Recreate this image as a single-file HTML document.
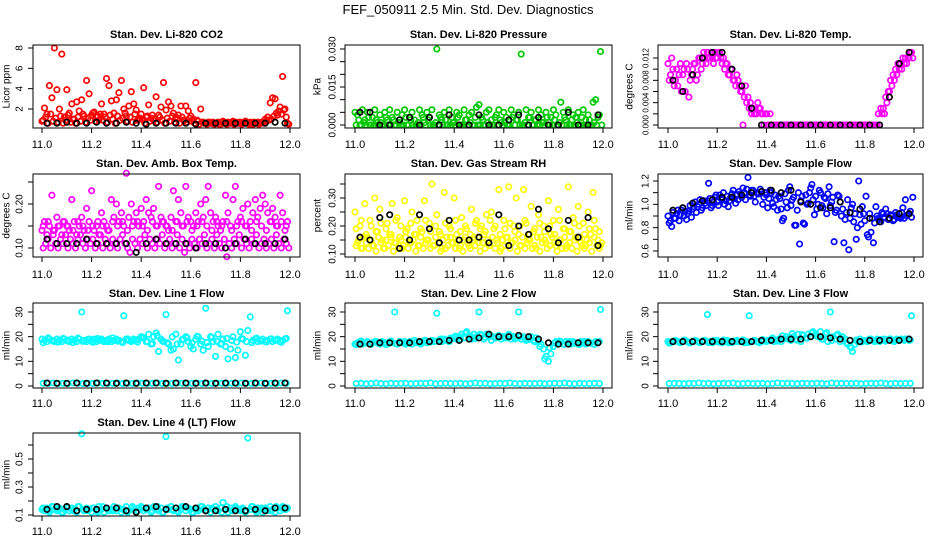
<!DOCTYPE html>
<html><head><meta charset="utf-8"><style>
body{margin:0;background:#fff}
svg{display:block;font-family:"Liberation Sans",sans-serif}
</style></head><body>
<svg id="chart" width="936" height="540" viewBox="0 0 936 540" xmlns="http://www.w3.org/2000/svg">
<rect width="936" height="540" fill="#fff"/>
<text x="468" y="14" text-anchor="middle" font-size="13">FEF_050911  2.5 Min. Std. Dev. Diagnostics</text>
</svg>
<script>
// ---- category (time) axes ----
const xTicks = [11.0, 11.2, 11.4, 11.6, 11.8, 12.0];
const xTickLabels = ["11.0", "11.2", "11.4", "11.6", "11.8", "12.0"];
const times100 = []; for (let i = 0; i < 100; i++) times100.push(11 + i * 0.01);
const times50 = []; for (let i = 0; i < 50; i++) times50.push(11.005 + i * 0.02);
const timesK = [11.02,11.06,11.10,11.14,11.18,11.22,11.26,11.30,11.34,11.38,11.42,11.46,11.50,11.54,11.58,11.62,11.66,11.70,11.74,11.78,11.82,11.86,11.90,11.94,11.98];

// ---- series values ----
const co2A = [0.8,2.1,1.5,4.3,3.1,8.0,3.9,2.0,7.4,1.2, 3.9,1.6,2.5,1.0,2.7,1.8,2.9,1.3,4.8,3.5, 1.4,1.7,1.2,0.9,2.5,1.5,5.0,4.3,2.8,1.6, 2.9,3.6,4.8,2.0,1.3,2.3,3.7,2.5,1.9,1.0, 1.5,4.1,1.2,2.4,1.1,0.9,3.2,1.4,2.2,4.6, 1.9,2.7,2.3,1.6,1.2,1.4,2.3,0.9,2.3,1.8, 1.3,1.0,4.6,0.8,2.0,0.7,0.6,0.7,0.6,0.7, 0.6,0.7,0.5,0.8,0.6,0.7,0.6,0.8,0.7,0.6, 0.7,0.6,0.8,0.6,0.7,0.5,0.6,0.7,0.6,0.7, 1.0,1.2,2.6,3.1,3.0,1.4,2.2,5.2,2.0,0.6];
const co2B = [0.9,1.2,0.6,1.5,0.8,1.1,0.7,1.3,0.6,0.9, 1.4,0.7,1.0,0.6,1.2,0.8,1.5,0.7,1.1,0.9, 1.6,0.8,1.3,1.5,0.9,1.2,0.7,1.4,1.0,0.6, 1.3,0.9,1.1,1.6,0.8,1.2,0.7,1.5,0.9,1.1, 1.0,0.6,1.3,0.8,1.4,1.1,0.7,1.2,0.9,0.6, 1.1,0.8,1.3,0.7,1.0,0.6,1.2,0.9,0.7,1.1, 0.8,0.6,0.9,0.5,0.7,0.6,0.5,0.7,0.6,0.5, 0.6,0.5,0.7,0.6,0.5,0.6,0.7,0.5,0.6,0.7, 0.5,0.6,0.7,0.5,0.6,0.7,0.6,0.5,0.7,0.6, 0.8,0.9,1.0,1.3,1.6,1.8,1.5,1.9,1.2,0.5];
const co2K = [0.6,0.6,0.7,0.6,0.6,0.7,0.6,0.6,0.7,0.6,0.5,0.6,0.6,0.6,0.6,0.5,0.6,0.6,0.6,0.6,0.6,0.6,0.6,0.7,0.6];

const presA = [.005,.004,.000,.006,.002,.005,.000,.003,.006,.001, .004,.000,.005,.002,.006,.003,.000,.005,.001,.004, .006,.000,.003,.005,.002,.000,.006,.004,.001,.005, .003,.006,.000,.030,.004,.002,.005,.000,.006,.003, .001,.005,.004,.000,.006,.002,.004,.005,.000,.007, .008,.003,.000,.005,.006,.002,.000,.004,.006,.001, .005,.003,.000,.006,.004,.002,.005,.028,.000,.006, .003,.005,.000,.002,.006,.004,.001,.005,.000,.003, .006,.004,.000,.009,.005,.002,.006,.000,.004,.003, .005,.000,.006,.002,.004,.000,.009,.010,.003,.029];
const presB = [.000,.002,.000,.001,.000,.003,.000,.000,.002,.000, .001,.000,.003,.000,.000,.002,.000,.001,.000,.000, .003,.000,.002,.000,.000,.001,.000,.003,.000,.002, .000,.000,.001,.000,.003,.000,.002,.000,.000,.001, .000,.003,.000,.000,.002,.000,.001,.000,.003,.000, .000,.002,.000,.001,.000,.000,.003,.000,.002,.000, .001,.000,.000,.003,.000,.002,.000,.000,.001,.000, .003,.000,.002,.000,.000,.001,.000,.003,.000,.000, .002,.000,.001,.000,.003,.000,.000,.002,.000,.001, .000,.003,.000,.000,.002,.000,.001,.000,.004,.000];
const presK = [.005,.005,.000,.000,.002,.003,.000,.003,.000,.004,.000,.000,.004,.000,.000,.002,.004,.000,.003,.000,.000,.005,.000,.000,.004];

const tempA = [.011,.009,.010,.008,.007,.011,.009,.006,.010,.008, .010,.011,.009,.012,.011,.012,.013,.012,.012,.013, .012,.013,.011,.010,.011,.009,.010,.008,.009,.007, .006,.005,.004,.003,.002,.002,.002,.003,.002,.000, .002,.000,.000,.000,.000,.000,.000,.000,.000,.000, .000,.000,.000,.000,.000,.000,.000,.000,.000,.000, .000,.000,.000,.000,.000,.000,.000,.000,.000,.000, .000,.000,.000,.000,.000,.000,.000,.000,.000,.000, .000,.000,.000,.000,.000,.000,.000,.002,.002,.004, .006,.007,.008,.009,.010,.010,.011,.011,.012,.013];
const tempB = [.008,.012,.007,.010,.009,.006,.010,.011,.005,.009, .011,.008,.012,.010,.013,.011,.012,.013,.011,.012, .013,.012,.012,.011,.009,.010,.008,.007,.008,.006, .000,.007,.005,.004,.003,.002,.004,.003,.002,.002, .000,.002,.000,.000,.000,.000,.000,.000,.000,.000, .000,.000,.000,.000,.000,.000,.000,.000,.000,.000, .000,.000,.000,.000,.000,.000,.000,.000,.000,.000, .000,.000,.000,.000,.000,.000,.000,.000,.000,.000, .000,.000,.000,.000,.000,.002,.003,.003,.005,.006, .008,.009,.010,.011,.011,.012,.012,.012,.013,.012];
const tempK = [.008,.006,.009,.012,.013,.013,.010,.007,.003,.000,.000,.000,.000,.000,.000,.000,.000,.000,.000,.000,.000,.000,.005,.011,.013];

const ambA = [.14,.16,.13,.15,.22,.14,.17,.15,.13,.16, .15,.14,.21,.16,.13,.15,.17,.14,.19,.16, .23,.14,.15,.13,.18,.16,.15,.14,.21,.17, .20,.16,.18,.15,.27,.17,.20,.16,.18,.15, .19,.16,.21,.18,.17,.19,.15,.24,.17,.16, .15,.14,.17,.23,.16,.21,.18,.15,.24,.17, .16,.15,.18,.16,.20,.17,.21,.24,.18,.16, .17,.15,.14,.16,.22,.18,.15,.21,.24,.16, .17,.19,.15,.20,.16,.18,.21,.17,.19,.22, .20,.18,.16,.19,.17,.15,.22,.18,.14,.16];
const ambB = [.10,.11,.12,.10,.13,.11,.10,.12,.11,.13, .10,.12,.11,.10,.12,.13,.11,.10,.12,.11, .12,.10,.11,.13,.10,.12,.11,.10,.12,.11, .10,.12,.13,.11,.10,.09,.12,.11,.10,.12, .11,.13,.10,.12,.11,.10,.12,.11,.13,.10, .11,.12,.10,.11,.13,.10,.12,.09,.11,.10, .12,.11,.10,.12,.11,.13,.10,.11,.12,.10, .13,.11,.10,.12,.08,.11,.10,.12,.11,.13, .10,.12,.11,.10,.12,.11,.13,.10,.11,.12, .10,.11,.12,.10,.13,.11,.10,.12,.11,.10];
const ambC = [.15,.16,.14,.15,.16,.15,.14,.16,.15,.14, .15,.16,.15,.14,.16,.15,.16,.14,.15,.16, .15,.14,.16,.15,.16,.15,.14,.16,.15,.16, .14,.15,.16,.15,.14,.16,.15,.16,.14,.15, .16,.15,.14,.16,.15,.14,.16,.15,.16,.15];
const ambK = [.12,.11,.11,.11,.12,.11,.11,.11,.11,.09,.11,.12,.11,.11,.11,.10,.11,.11,.10,.11,.12,.11,.11,.11,.12];

const rhA = [.25,.14,.20,.12,.28,.16,.22,.13,.30,.18, .26,.15,.12,.21,.17,.28,.14,.23,.16,.12, .29,.19,.14,.25,.17,.22,.13,.18,.29,.15, .21,.35,.13,.24,.18,.12,.32,.16,.20,.14, .30,.17,.12,.23,.15,.19,.13,.26,.16,.22, .14,.20,.17,.24,.13,.25,.19,.15,.33,.12, .22,.16,.34,.14,.20,.30,.17,.13,.33,.21, .15,.27,.18,.12,.24,.16,.20,.14,.29,.17, .22,.13,.26,.15,.19,.12,.34,.18,.23,.16, .27,.14,.21,.13,.25,.17,.32,.19,.15,.13];
const rhB = [.13,.15,.12,.16,.14,.12,.15,.13,.11,.16, .14,.12,.15,.13,.16,.11,.14,.12,.15,.13, .16,.12,.14,.15,.11,.13,.16,.12,.14,.15, .12,.13,.16,.14,.11,.15,.12,.13,.16,.14, .12,.15,.13,.11,.16,.14,.12,.15,.13,.16, .11,.14,.12,.15,.13,.16,.12,.14,.11,.15, .13,.16,.12,.14,.15,.11,.13,.16,.12,.14, .15,.12,.13,.16,.11,.14,.15,.12,.13,.16, .14,.11,.15,.12,.16,.13,.14,.12,.15,.11, .16,.13,.12,.15,.14,.11,.16,.13,.12,.14];
const rhC = [.19,.22,.17,.20,.18,.21,.19,.17,.22,.20, .18,.21,.17,.19,.22,.18,.20,.17,.21,.19, .22,.18,.20,.17,.21,.19,.18,.22,.20,.17, .19,.21,.18,.20,.22,.17,.19,.21,.18,.20, .17,.22,.19,.18,.21,.20,.17,.19,.22,.18];
const rhK = [.16,.15,.23,.24,.12,.15,.24,.19,.14,.22,.15,.15,.16,.14,.24,.13,.20,.17,.26,.19,.14,.22,.16,.23,.13];

const sfA = [.90,.86,.93,.88,.95,.91,.97,.94,.92,.99, .96,1.02,.98,1.04,.97,1.01,1.03,1.05,.99,1.06, 1.02,1.08,1.04,1.00,1.07,1.03,1.09,1.05,1.08,1.11, 1.06,1.10,1.13,1.08,1.12,1.07,1.10,1.09,1.11,1.06, 1.08,1.05,1.10,.98,1.04,1.07,.96,.88,1.02,1.12, .99,1.06,.82,1.10,1.03,.84,1.08,1.01,1.14,1.04, 1.07,1.00,1.10,.97,1.05,1.09,.99,1.06,.93,1.08, 1.02,.96,.87,1.04,.88,1.00,.92,.80,.91,.98, .86,.74,.92,.88,.84,.90,.87,.93,.89,.92, .88,.90,.87,.91,.89,.93,.88,.90,.92,.89];
const sfB = [.84,.81,.88,.92,.86,.95,.90,.87,.94,.89, .98,.93,1.00,.95,1.03,.99,1.18,.97,1.02,1.08, .99,1.05,1.10,1.03,.98,1.06,1.12,1.01,1.04,1.09, 1.14,1.04,1.23,1.07,1.12,1.02,1.09,1.13,1.00,1.10, .97,1.12,1.01,1.08,.95,1.05,.86,1.09,.97,1.15, 1.04,.82,.95,.66,1.07,.83,1.00,1.10,1.17,.91, .96,1.12,.99,1.06,.92,1.15,1.02,.68,.95,1.07, .90,.67,.93,.61,.97,.85,.70,1.20,.83,.92, 1.07,.72,.76,.67,.98,.88,.85,.92,.96,.87, .91,.86,.93,.90,.88,.97,1.04,.91,.94,1.06];
const sfK = [.95,.97,1.01,1.03,1.04,1.06,1.06,1.08,1.10,1.11,1.12,1.10,1.12,1.02,1.00,.97,.97,1.02,.93,.96,.88,.85,.88,.92,.92];

const l1A = [19,18.5,18,19,18.5,18,19,18.5,18,19, 18.5,18,19,18.5,18,19,30,18.5,18,19, 18.5,19,18,18.5,19,18,18.5,19,18,18.5, 19,18.5,18,28.5,19,18.5,18,19,18.5,19, 20,19.5,18,21,17,20,21.5,14,19,18, 29,17,14.5,15,21,10.5,17,19,20,18, 16,15,19,20,17,14.5,31.5,16,20,18, 12,21,17,19,16,11,15,20,11.5,14.5, 22,19,12.5,22.5,28,18.5,19,18,18.5,19, 18,18.5,19,18,18.5,19,18,18.5,19,30.5];
const l1B = [17.5,19.5,18.2,17.8,19.3,18.6,17.6,19.4,18.1,18.9, 17.7,19.2,18.4,17.9,19.5,18.2,17.6,19.1,18.6,17.8, 19.8,18.0,17.2,20.4,18.3,17.5,19.9,17.0,18.8,19.6, 17.4,20.1,18.2,17.6,19.7,18.1,17.2,19.3,18.5,17.8, 19.2,18.0,17.6,19.4,18.3,17.8,19.1,18.6,17.7,19.3];
const l1C = [1.1,1.0,1.2,1.0,1.1,1.0,1.2,1.1,1.0,1.1, 1.0,1.2,1.1,1.0,1.1,1.2,1.0,1.1,1.0,1.2, 1.1,1.0,1.1,1.2,1.0,1.1,1.0,1.2,1.1,1.0, 1.1,1.2,1.0,1.1,1.0,1.2,1.1,1.0,1.1,1.0, 1.2,1.1,1.0,1.1,1.2,1.0,1.1,1.0,1.2,1.1];
const l1K = [1.2,1.1,1.1,1.2,1.1,1.2,1.2,1.1,1.2,1.1,1.2,1.2,1.1,1.2,1.2,1.1,1.2,1.1,1.2,1.2,1.1,1.2,1.1,1.2,1.2];

const l2A = [17,17.5,18,17,17.5,18,17,17.5,18,17.5, 17,18,17.5,17,18,17.5,30,17,18,17.5, 18,17.5,18,17,18.5,18,17.5,18,18.5,17.5, 18,18.5,18,29.5,18.5,18,19,18.5,18,19, 19.5,19,20,21,19.5,22,20,19,21,20, 30,20.5,19,21,20,18.5,20,19.5,20.5,19, 20,19.5,21,19,20,19.5,30,19,20,18.5, 19,20,18.5,19.5,18,17,15,12,10,13, 16,18,17.5,18,17,18,17.5,17,18,17.5, 17,18,17.5,17,18,17.5,17,18,17.5,31];
const l2B = [16.8,18.2,17.4,16.9,18.1,17.6,16.8,18.3,17.2,17.9, 16.9,18.0,17.5,17.0,18.4,17.8,18.2,19.1,18.6,19.4, 20.2,19.0,21.4,20.3,19.2,21.0,19.8,20.6,19.5,20.1, 19.6,20.4,19.1,20.0,19.3,18.8,17.9,16.0,11.0,15.5, 17.4,18.2,16.9,18.0,17.3,16.8,18.1,17.5,16.9,18.0];
const l2C = [1.0,1.1,0.9,1.0,1.2,1.0,0.9,1.1,1.0,1.0, 1.1,0.9,1.0,1.1,1.0,1.2,0.9,1.0,1.1,1.0, 1.0,1.1,0.9,1.0,1.2,1.0,1.1,0.9,1.0,1.1, 1.0,1.2,1.0,0.9,1.1,1.0,1.0,1.1,0.9,1.0, 1.1,1.0,1.2,1.0,0.9,1.1,1.0,1.0,1.1,1.0];
const l2K = [17,17,17.5,17.5,17.5,17.5,18,18,18,18.5,18.5,19,19.5,21,20,20,20.5,20,19,17.5,17,17,17.5,17.5,17.5];

const l3A = [18,17.5,18,18.5,18,17.5,18,18.5,18,17.5, 18,18.5,18,17.5,18,18.5,29,18,17.5,18, 18.5,18,17.5,18,18.5,18,17.5,18,18.5,18, 18,17.5,18,28.5,18,18.5,18,17.5,18,18.5, 18,18.5,19,18,18.5,19,18,19,20,19, 18.5,20,19,21,18,20.5,19.5,21,20,22, 21,20,22,19,21,18,30,20,19,21, 18,20,19,17,16,14,17,18,19,18, 18.5,18,19,18.5,18,19,18,18.5,19,18.5, 19,18.5,18,19,18.5,19,18.5,19,18.5,28.5];
const l3B = [17.4,18.3,17.8,18.6,17.5,18.2,17.7,18.5,17.6,18.4, 17.8,18.6,17.5,18.2,17.9,18.7,17.6,18.3,18.0,18.8, 18.4,19.5,18.2,20.3,19.1,21.2,18.6,20.8,19.4,21.5, 20.2,19.0,21.6,18.4,20.5,19.2,17.5,15.5,18.6,17.8, 18.3,19.0,18.5,18.9,18.2,19.1,18.4,18.8,19.0,18.6];
const l3C = [1.0,1.1,1.0,0.9,1.1,1.0,1.2,1.0,1.1,0.9, 1.0,1.1,1.0,1.2,0.9,1.0,1.1,1.0,1.0,1.1, 0.9,1.0,1.2,1.0,1.1,1.0,0.9,1.1,1.0,1.0, 1.1,1.0,0.9,1.2,1.0,1.1,1.0,1.0,1.1,0.9, 1.0,1.1,1.0,1.2,1.0,0.9,1.1,1.0,1.0,1.1];
const l3K = [18,18,18,18,18,18,18,18,18,18.5,18.5,19,19,19,20,20,19.5,19,18.5,18,18.5,18.5,18.5,18.5,19];

const l4A = [.14,.13,.15,.12,.16,.14,.13,.15,.12,.14, .16,.13,.15,.14,.12,.16,.68,.13,.15,.14, .12,.15,.13,.16,.14,.12,.15,.13,.14,.16, .13,.15,.12,.14,.16,.13,.15,.14,.12,.15, .16,.13,.14,.15,.12,.16,.14,.13,.15,.12, .66,.14,.16,.13,.15,.12,.14,.16,.13,.15, .14,.12,.15,.13,.16,.14,.13,.15,.12,.14, .16,.13,.15,.19,.14,.12,.15,.13,.16,.14, .13,.15,.12,.65,.14,.16,.13,.15,.14,.12, .15,.13,.16,.14,.12,.15,.13,.16,.14,.15];
const l4B = [.15,.13,.16,.14,.12,.15,.13,.16,.14,.13, .15,.12,.16,.14,.13,.15,.14,.12,.16,.13, .15,.14,.13,.16,.12,.15,.14,.13,.16,.15, .12,.14,.16,.13,.15,.14,.12,.16,.13,.15, .14,.13,.16,.12,.15,.14,.13,.16,.15,.14];
const l4K = [.14,.16,.16,.13,.14,.14,.15,.15,.13,.12,.15,.16,.14,.15,.16,.15,.13,.13,.14,.13,.13,.14,.13,.15,.15];

// ---- panel layout ----
const cols = [{l:33,r:300,x0:42,x1:290,tl:20,tt:7},{l:345,r:612,x0:355,x1:603,tl:333,tt:318},{l:658,r:923,x0:668,x1:914,tl:646,tt:630}];
const rows = [{t:45,b:128,tt:38,lb:148},{t:174,b:257,tt:167,lb:278},{t:303,b:388,tt:297,lb:407},{t:433,b:516,tt:426,lb:535}];

const panels = [
 {name:'co2',title:'Stan. Dev. Li-820 CO2',yt:'Licor ppm',c:0,r:0,ref:[2,109,8,48],ticks:[2,4,6,8],labs:['2','4','6','8'],s:[[times100,co2A,'#ff0000'],[times100.map(t=>t+0.005),co2B,'#ff0000'],[timesK,co2K,'#000']]},
 {name:'pressure',title:'Stan. Dev. Li-820 Pressure',yt:'kPa',c:1,r:0,ref:[0,125,0.03,49],ticks:[0,.005,.01,.015,.02,.025,.03],labs:['0.000','','','0.015','','','0.030'],s:[[times100,presA,'#00c800'],[times100.map(t=>t+0.005),presB,'#00c800'],[timesK,presK,'#000']]},
 {name:'temp',title:'Stan. Dev. Li-820 Temp.',yt:'degrees C',c:2,r:0,ref:[0,125,0.012,58],ticks:[0,.002,.004,.006,.008,.01,.012],labs:['0.000','','0.004','','0.008','','0.012'],lf:8,s:[[times100,tempA,'#ff00ff'],[times100.map(t=>t+0.005),tempB,'#ff00ff'],[timesK,tempK,'#000']]},
 {name:'amb-temp',title:'Stan. Dev. Amb. Box Temp.',yt:'degrees C',c:0,r:1,ref:[0.1,248,0.2,204],ticks:[.1,.15,.2,.25],labs:['0.10','','0.20',''],s:[[times100,ambA,'#ff00ff'],[times100.map(t=>t+0.005),ambB,'#ff00ff'],[times50,ambC,'#ff00ff'],[timesK,ambK,'#000']]},
 {name:'rh',title:'Stan. Dev. Gas Stream RH',yt:'percent',c:1,r:1,ref:[0.1,254,0.3,198],ticks:[.1,.15,.2,.25,.3,.35],labs:['0.10','','0.20','','0.30',''],s:[[times100,rhA,'#ffff00'],[times100.map(t=>t+0.005),rhB,'#ffff00'],[times50,rhC,'#ffff00'],[timesK,rhK,'#000']]},
 {name:'sample-flow',title:'Stan. Dev. Sample Flow',yt:'ml/min',c:2,r:1,ref:[0.6,251,1.2,181],ticks:[.6,.7,.8,.9,1,1.1,1.2],labs:['0.6','','0.8','','1.0','','1.2'],s:[[times100,sfA,'#0000ff'],[times100.map(t=>t+0.005),sfB,'#0000ff'],[timesK,sfK,'#000']]},
 {name:'line1',title:'Stan. Dev. Line 1 Flow',yt:'ml/min',c:0,r:2,ref:[0,386,30,312],ticks:[0,5,10,15,20,25,30],labs:['0','','10','','20','','30'],s:[[times100,l1A,'#00ffff'],[times50,l1B,'#00ffff'],[times50,l1C,'#00ffff'],[timesK,l1K,'#000']]},
 {name:'line2',title:'Stan. Dev. Line 2 Flow',yt:'ml/min',c:1,r:2,ref:[0,386,30,312],ticks:[0,5,10,15,20,25,30],labs:['0','','10','','20','','30'],s:[[times100,l2A,'#00ffff'],[times50,l2B,'#00ffff'],[times50,l2C,'#00ffff'],[timesK,l2K,'#000']]},
 {name:'line3',title:'Stan. Dev. Line 3 Flow',yt:'ml/min',c:2,r:2,ref:[0,386,30,312],ticks:[0,5,10,15,20,25,30],labs:['0','','10','','20','','30'],s:[[times100,l3A,'#00ffff'],[times50,l3B,'#00ffff'],[times50,l3C,'#00ffff'],[timesK,l3K,'#000']]},
 {name:'line4',title:'Stan. Dev. Line 4 (LT) Flow',yt:'ml/min',c:0,r:3,ref:[0.1,515,0.5,459],ticks:[.1,.2,.3,.4,.5,.6],labs:['0.1','','0.3','','0.5',''],s:[[times100,l4A,'#00ffff'],[times50,l4B,'#00ffff'],[timesK,l4K,'#000']]}
];

const svg = document.getElementById('chart');
const NS = 'http://www.w3.org/2000/svg';
function mk(tag, attrs, parent){const e=document.createElementNS(NS,tag);for(const k in attrs)e.setAttribute(k,attrs[k]);parent.appendChild(e);return e;}

panels.forEach(p=>{
  const C=cols[p.c], R=rows[p.r];
  const xs=t=>C.x0+(t-11)*(C.x1-C.x0);
  const ys=v=>p.ref[1]+(v-p.ref[0])*(p.ref[3]-p.ref[1])/(p.ref[2]-p.ref[0]);
  const g=mk('g',{},svg);
  
  
  const tt=mk('text',{x:(C.l+C.r)/2,y:R.tt,'text-anchor':'middle','font-size':'11','font-weight':'bold'},g);
  tt.textContent=p.title;
  
  
  const yt=mk('text',{x:C.tt,y:(R.t+R.b)/2,'text-anchor':'middle','font-size':'10',transform:`rotate(-90 ${C.tt} ${(R.t+R.b)/2})`,'dominant-baseline':'central'},g);
  yt.textContent=p.yt;
  
  
  // points
  p.s.forEach(ser=>{
    const [ts,vs,col]=ser;
    vs.forEach((v,i)=>{
      const c=mk('circle',{cx:xs(ts[i]).toFixed(1),cy:ys(v).toFixed(1),r:'2.7',fill:'none',stroke:col,'stroke-width':'1.7'},g);
      
      
    });
  });
  const box=mk('rect',{x:C.l,y:R.t,width:C.r-C.l,height:R.b-R.t,fill:'none',stroke:'#000','stroke-width':'1'},g);
  
  
  // x axis
  xTicks.forEach((t,i)=>{
    const x=xs(t);
    mk('line',{x1:x,x2:x,y1:R.b,y2:R.b+5,stroke:'#000'},g);
    const lb=mk('text',{x:x,y:R.lb,'text-anchor':'middle','font-size':'11'},g);
    lb.textContent=xTickLabels[i];
    
    
  });
  // y axis
  p.ticks.forEach((v,i)=>{
    const y=ys(v);
    mk('line',{x1:C.l-5,x2:C.l,y1:y,y2:y,stroke:'#000'},g);
    if(p.labs[i]){
      const lb=mk('text',{x:C.tl,y:y,'text-anchor':'middle','font-size':p.lf||10,transform:`rotate(-90 ${C.tl} ${y})`,'dominant-baseline':'central'},g);
      lb.textContent=p.labs[i];
      
      
    }
  });
});
</script>
</body></html>
